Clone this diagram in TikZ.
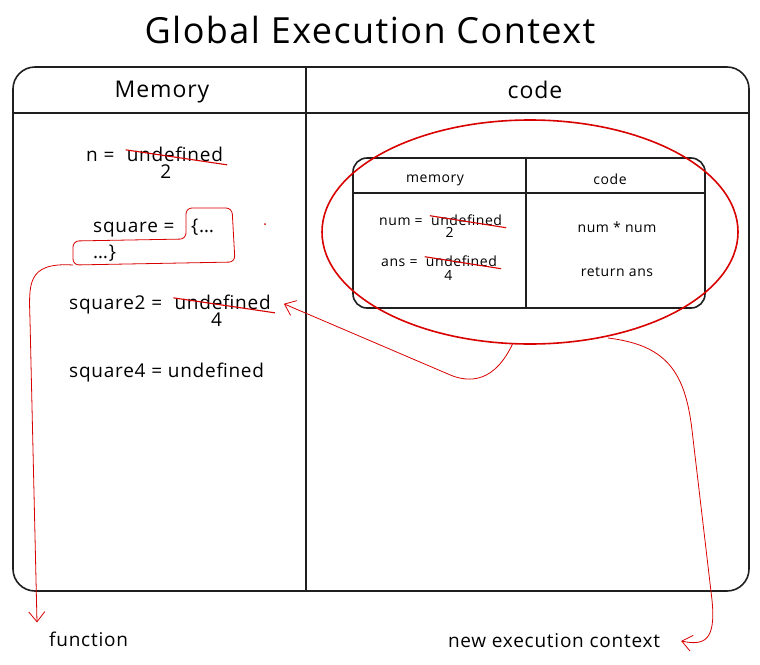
\documentclass[tikz,border=0pt]{standalone}
\usepackage{fontspec}
\setmainfont{Open Sans}[LetterSpace=4]
\usetikzlibrary{arrows.meta,positioning}

\begin{document}
\begin{tikzpicture}[x=1pt,y=-1pt,
    frame/.style={draw=black!88,line width=1.6pt},
    head/.style={inner sep=1pt,font=\fontsize{23}{26}\selectfont},
    txt/.style={inner sep=1pt,font=\fontsize{19}{21}\selectfont},
    small/.style={inner sep=1pt,font=\fontsize{14}{16}\selectfont},
    strike/.style={draw=red!85!black,line width=1.1pt},
    redline/.style={draw=red!85!black,line width=0.8pt},
    barb/.style={-{Straight Barb[length=10pt,width=16pt]}}]
  \useasboundingbox (0,0) rectangle (760,664);
  \node[inner sep=1pt,font=\fontsize{36}{40}\selectfont] (title) at (370,30)
  {Global Execution Context};

  % global context frame
  \draw[frame,rounded corners=22] (13,67) rectangle (749,591);
  \draw[frame] (13,113) -- (749,113) (306,67) -- (306,591);
  \node[head] (memhead) at (162,92) {Memory}; \node[head] (codehead) at
  (535,90) {code};

  % memory column
  \node[txt,anchor=base west] (n) at (85,161) {n =}; \node[txt,base
  right=10pt of n] (nval) {undefined}; \node[txt,below=1pt of nval,xshift=-9pt]
  (ntwo) {2};
  \node[txt,anchor=base west] (sq) at (92,232) {square =}; \node[txt,anchor=base
  west] (sqbrace) at (190,232) {\{\dots}; \node[txt,anchor=base west]
  (sqend) at (92,258) {\dots\}};
  \node[txt,anchor=base west] (sqtwo) at (68,309) {square2 =}; \node[txt,base
  right=10pt of sqtwo] (sqtwoval) {undefined}; \node[txt,below=1pt of
  sqtwoval,xshift=-6pt] (four) {4};
  \node[txt,anchor=base west] (sqfour) at (68,377) {square4 = undefined};

  \path [strike] ([yshift=4pt]nval.west) edge ([xshift=3pt,yshift=-11pt]nval.east)
  ([yshift=4pt]sqtwoval.west) edge ([xshift=3pt,yshift=-11pt]sqtwoval.east);

  % function body outline
  \coordinate (fnstart) at (73,265);
  \draw[redline,rounded corners=6] (fnstart) -- (73,241) -- (186,239) --
  (186,208) -- (232,208) -- (235,262) -- cycle;
  \fill[red!85!black] (265,224) circle (1);

  % new execution context
  \draw[frame,rounded corners=14] (353,158) rectangle (705,308);
  \draw[frame] (353,193) -- (705,193) (526,158) -- (526,308);
  \node[small] (memsub) at (435,180) {memory}; \node[small] (codesub) at
  (610,179) {code};
  \node[small,anchor=base west] (num) at (378,225) {num =}; \node[small,base
  right=6pt of num] (numval) {undefined}; \node[small,below=0pt of
  numval,xshift=-17pt] (numtwo) {2};
  \node[small,anchor=base west] (ans) at (380,266) {ans =}; \node[small,base
  right=6pt of ans] (ansval) {undefined}; \node[small,below=2pt of
  ansval,xshift=-13pt] (ansfour) {4};
  \node[small] (mult) at (617,227) {num * num}; \node[small] (ret) at
  (617,272) {return ans};

  \path [strike] ([yshift=4pt]numval.west) edge ([xshift=3pt,yshift=-8pt]numval.east)
  ([yshift=4pt]ansval.west) edge ([xshift=3pt,yshift=-8pt]ansval.east);

  \draw[redline,line width=1.6pt] (530,232) ellipse [x radius=208, y radius=112];
  \coordinate (ringleft) at (513,343); \coordinate (ringright) at (608,338);

  % labels below the frame
  \node[txt,anchor=west] (func) at (48,639) {function}; \node[txt]
  (ctx) at (554,641) {new execution context};

  \draw[redline,barb] (ringleft) .. controls (495,382) and (470,384) ..
  (448,374) -- ([xshift=12pt,yshift=-2pt]sqtwoval.east);
  \draw[redline,barb] (fnstart) .. controls (26,262) and (29,285) ..
  (30,320) -- ([xshift=-11pt,yshift=8pt]func.north west);
  \draw[redline,barb] (ringright) .. controls (665,345) and (685,370) ..
  (692,430) -- (712,600) .. controls (716,640) and (705,646) ..
  ([xshift=20pt]ctx.east);
\end{tikzpicture}
\end{document}
